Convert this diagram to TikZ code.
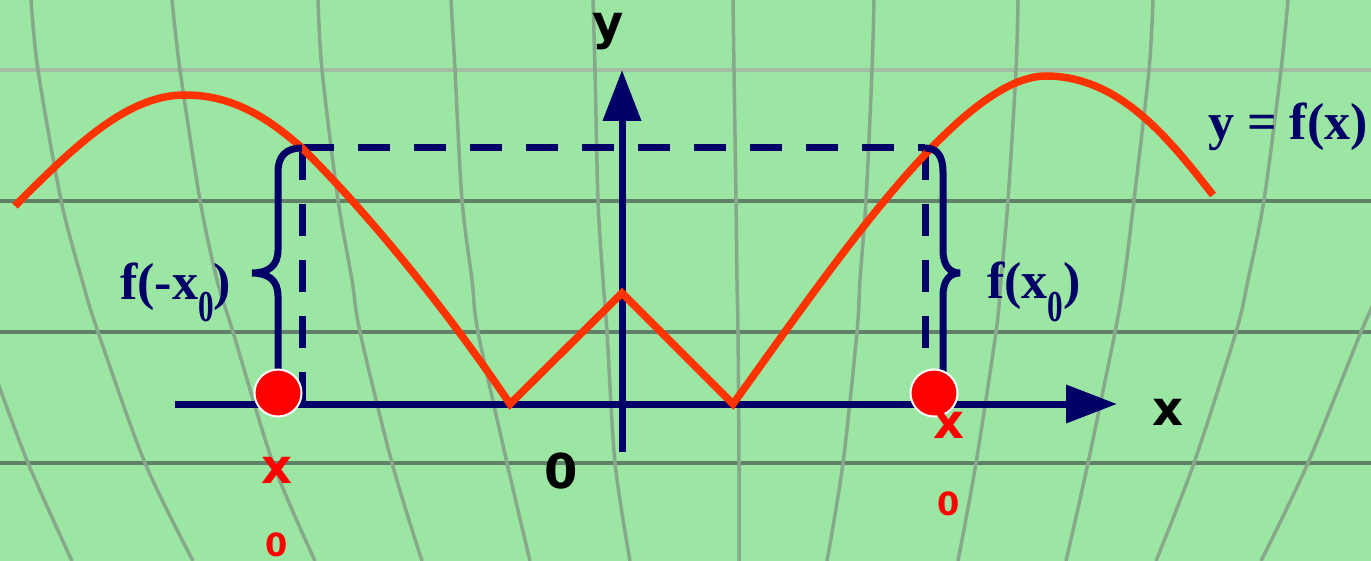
\documentclass[tikz,border=0pt]{standalone}
\usepackage{fontspec}
\setmainfont{Liberation Serif}
\newfontfamily\axisfont{DejaVu Sans}
\usepackage{graphicx}
\usetikzlibrary{arrows.meta, positioning}

\definecolor{bggreen}{RGB}{156,230,164}
\definecolor{navy}{RGB}{0,0,102}
\definecolor{curvered}{RGB}{255,51,0}
\definecolor{griddark}{RGB}{96,128,104}
\definecolor{gridlight}{RGB}{164,188,164}
\definecolor{gridgray}{RGB}{136,168,140}

\newcommand{\subz}{\raisebox{-22pt}{\scalebox{0.6}[0.85]{0}}}

\begin{document}
\begin{tikzpicture}[
    x=1pt, y=-1pt,
    gridline/.style={griddark, line width=4pt},
    gridcurve/.style={gridgray, line width=3.5pt},
    axisline/.style={navy, line width=7pt, -{Triangle[length=51pt, width=37pt]}},
    dashline/.style={navy, line width=7pt, dash pattern=on 32pt off 24pt},
    bracefig/.style={navy, line width=7pt},
    curve/.style={curvered, line width=7.5pt},
    dot/.style={circle, fill=red, draw=white, line width=2pt,
                minimum size=47pt, inner sep=0pt},
    mathlbl/.style={navy, inner sep=0pt, anchor=base west,
                    font=\bfseries\fontsize{52}{52}\selectfont},
    axislbl/.style={inner sep=0pt, anchor=base,
                    font=\axisfont\bfseries\fontsize{48}{48}\selectfont},
    pointlbl/.style={axislbl, text=red},
    pointsub/.style={pointlbl, font=\axisfont\bfseries\fontsize{32}{32}\selectfont}
  ]
  \useasboundingbox (0,0) rectangle (1371,561);
  \fill[bggreen] (0,0) rectangle (1371,561);

  % background grid
  \draw[gridlight, line width=4pt] (0,70) -- (1371,70);
  \foreach \gy in {201,332,463}
    \draw[gridline] (0,\gy) -- (1371,\gy);
  \draw[gridcurve] plot[smooth] coordinates {(-6,372) (28,463) (72,561)};
  \draw[gridcurve] plot[smooth] coordinates {(31,0) (38,70) (61,200) (82,280) (98,332) (145,463) (193,561)};
  \draw[gridcurve] plot[smooth] coordinates {(172,0) (180,70) (200,200) (217,280) (233,332) (273,463) (315,561)};
  \draw[gridcurve] plot[smooth] coordinates {(318,0) (322,70) (338,200) (352,280) (360,332) (392,463) (422,561)};
  \draw[gridcurve] plot[smooth] coordinates {(451,0) (455,70) (462,200) (472,280) (478,332) (507,463) (530,561)};
  \draw[gridcurve] plot[smooth] coordinates {(593,0) (595,70) (598,200) (603,280) (607,332) (615,463) (630,561)};
  \draw[gridcurve] plot[smooth] coordinates {(733,0) (734,70) (736,200) (737,280) (738,332) (739,463) (739,561)};
  \draw[gridcurve] plot[smooth] coordinates {(874,0) (872,70) (866,200) (860,280) (857,332) (843,463) (827,561)};
  \draw[gridcurve] plot[smooth] coordinates {(1018,0) (1016,70) (1008,200) (1001,280) (996,332) (976,463) (958,561)};
  \draw[gridcurve] plot[smooth] coordinates {(1153,0) (1149,70) (1134,200) (1124,280) (1115,332) (1088,463) (1066,561)};
  \draw[gridcurve] plot[smooth] coordinates {(1288,0) (1281,70) (1264,200) (1248,280) (1236,332) (1194,463) (1156,561)};
  \draw[gridcurve] plot[smooth] coordinates {(1380,290) (1361,332) (1308,463) (1261,561)};

  % key points
  \coordinate (tl) at (302,148);
  \coordinate (tr) at (925,148);
  \coordinate (bl) at (302,404);
  \coordinate (br) at (925,404);
  \coordinate (xs) at (175,404);
  \coordinate (xe) at (1117,404);
  \coordinate (ys) at (622,452);
  \coordinate (ye) at (622,70);

  % dashed guides
  \draw[dashline] (tl) -- (tr);
  \draw[dashline] (tl) -- (bl);
  \draw[dashline] (tr) -- (br);

  % axes
  \draw[axisline] (xs) -- (xe);
  \draw[axisline] (ys) -- (ye);

  % graph of y = f(x)
  \draw[curve] (15,206) .. controls (80,140) and (130,95) .. (185,95)
    .. controls (230,95) and (265,115) .. (tl)
    .. controls (360,205) and (440,300) .. (510,404) -- (622,293) -- (733,404)
    .. controls (830,270) and (960,76) .. (1046,76)
    .. controls (1120,76) and (1170,140) .. (1213,195);

  % braces
  \draw[bracefig] (tl) .. controls (286,148) and (278,156) .. (278,172) -- (278,250)
    .. controls (278,266) and (268,273) .. (252,273)
    .. controls (268,273) and (278,280) .. (278,296) -- (278,393);
  \draw[bracefig] (tr) .. controls (937,148) and (943,156) .. (943,172) -- (943,250)
    .. controls (943,266) and (950,273) .. (960,273)
    .. controls (950,273) and (943,280) .. (943,296) -- (943,393);

  % points on the x axis
  \node[dot] (dl) at (278,393) {};
  \node[dot] (dr) at (934,393) {};

  % labels
  \node[axislbl] (ylbl) at (608,40) {y};
  \node[axislbl] (xlbl) at (1168,425) {x};
  \node[axislbl] (orig) at (561,488) {0};
  \node[pointlbl] (xl) at (277,483) {x};
  \node[pointsub] (xlsub) at (277,556) {0};
  \node[pointlbl] (xr) at (949,438) {x};
  \node[pointsub] (xrsub) at (949,515) {0};
  \node[mathlbl] (fneg) at (120,300) {f(-x\subz)};
  \node[mathlbl] (fpos) at (987,299) {f(x\subz)};
  \node[mathlbl] (fname) at (1208,140) {y = f(x)};
\end{tikzpicture}
\end{document}
